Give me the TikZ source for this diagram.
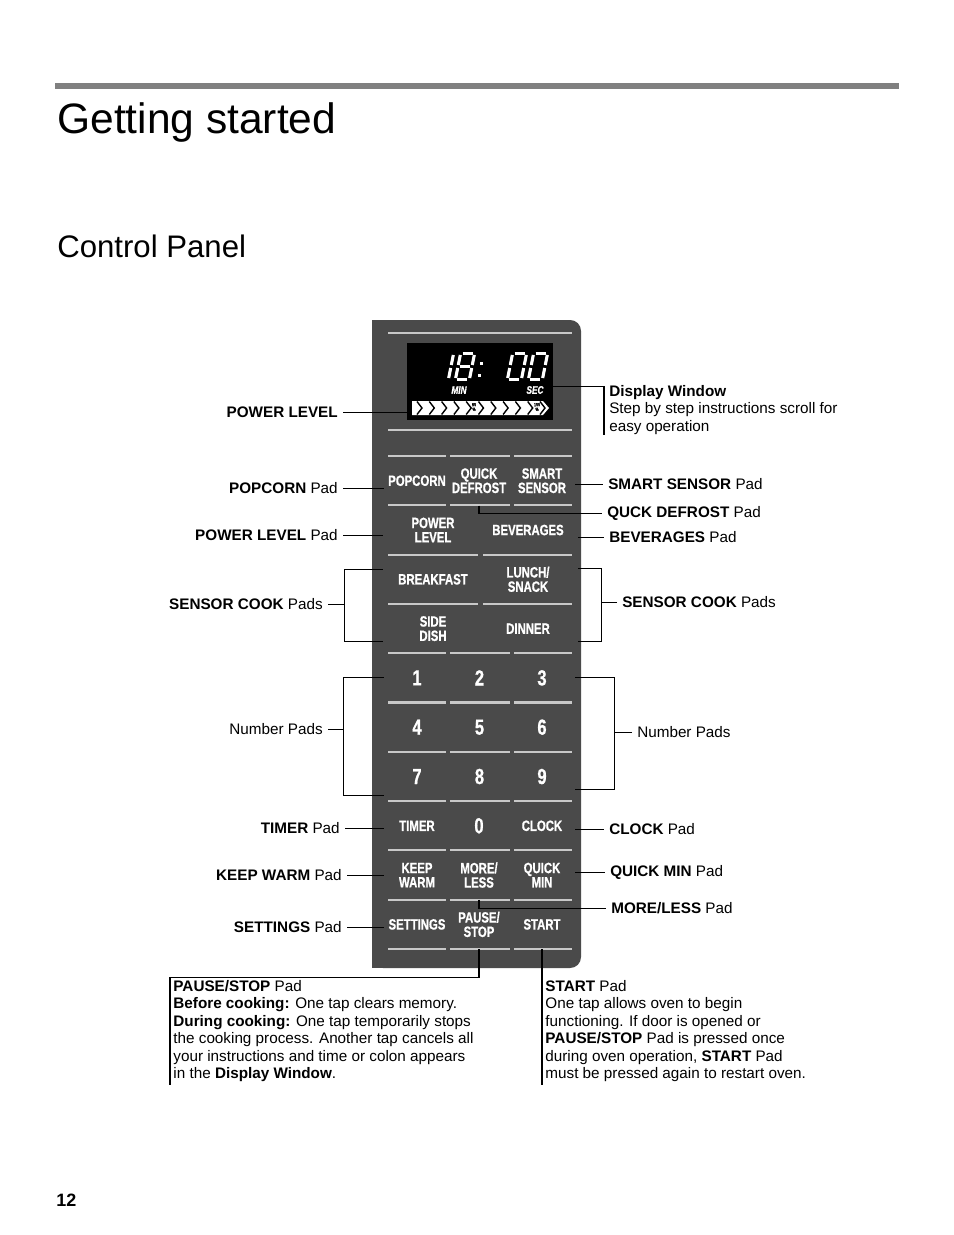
\documentclass[tikz,border=0pt]{standalone}
\usepackage{fontspec}
\setmainfont{Liberation Sans}
\newfontfamily\keyfont[FakeStretch=0.76, BoldFeatures={FakeBold=0.8}, BoldItalicFeatures={FakeBold=0.8}]{Liberation Sans}
\usetikzlibrary{calc}

\definecolor{panelgray}{HTML}{4A4A4A}
\definecolor{padline}{HTML}{C8C8C8}
\definecolor{rulegray}{HTML}{808080}

% seven segment digits, local px coordinates
\def\lcdone{14/-11.5/14/-1.5, 14/1.5/14/11.5}
\def\lcdzero{2/-13/12/-13, 14/-11.5/14/-1.5, 14/1.5/14/11.5, 2/13/12/13, 0/1.5/0/11.5, 0/-11.5/0/-1.5}
\def\lcdeight{2/-13/12/-13, 14/-11.5/14/-1.5, 14/1.5/14/11.5, 2/13/12/13, 0/1.5/0/11.5, 0/-11.5/0/-1.5, 2/0/12/0}
\newcommand{\lcddigit}[3]{%
    \begin{scope}[shift={(#1,#2)}, xslant=0.2]
        \foreach \xa/\ya/\xb/\yb in #3
            \draw[lcdseg] (\xa,\ya) -- (\xb,\yb);
    \end{scope}}

\begin{document}
\begin{tikzpicture}[x=0.642pt, y=-0.642pt,
    padkey/.style={text=white, font=\keyfont\bfseries\fontsize{9.6}{9.2}\selectfont, align=center,
        inner sep=0pt, minimum width={66*0.642pt}, minimum height={49*0.642pt}},
    widepad/.style={padkey, minimum width={100*0.642pt}},
    numkey/.style={padkey, font=\keyfont\bfseries\fontsize{14}{15}\selectfont},
    padsep/.style={padline, line width=1.3pt},
    lcd/.style={fill=black, inner sep=0pt, minimum width={146*0.642pt}, minimum height={77*0.642pt}},
    lcdseg/.style={white, line width=2pt},
    lcdtext/.style={text=white, font=\keyfont\bfseries\itshape\fontsize{7}{7}\selectfont, inner sep=0pt},
    lcdpct/.style={font=\keyfont\bfseries\fontsize{3}{3}\selectfont, align=center, inner sep=0pt},
    note/.style={font=\fontsize{9.8}{11.2}\selectfont, inner xsep=3.2pt, inner ysep=0pt},
    leader/.style={line width=0.65pt}]
    \useasboundingbox (0,0) rectangle (954,1235);

    % Header
    \fill[rulegray] (55,83) rectangle (899,89);
    \node[anchor=base west, inner sep=0pt, font=\fontsize{27.3}{30}\selectfont] (title) at (57,133) {Getting started};
    \node[anchor=base west, inner sep=0pt, font=\fontsize{20}{24}\selectfont] (section) at (57,257) {Control Panel};
    \node[anchor=base west, inner sep=0pt, font=\bfseries\fontsize{11.5}{13}\selectfont] (pageno) at (56,1206) {12};

    % Panel body
    \fill[panelgray, rounded corners=7pt] (372,320) rectangle (581,968);
    \fill[panelgray] (372,320) rectangle (420,968);

    % Pad separators
    \draw[padsep] (388,333) -- (572,333);
    \draw[padsep] (388,430) -- (572,430);
    \foreach \r in {0,1,4,5,6,7,8,9,10}
        \foreach \xa/\xb in {388/446,450/510,514/572}
            \draw[padsep] (\xa,{456+49.3*\r}) -- (\xb,{456+49.3*\r});
    \foreach \r in {2,3}
        \foreach \xa/\xb in {388/478,483/572}
            \draw[padsep] (\xa,{456+49.3*\r}) -- (\xb,{456+49.3*\r});

    % Display window
    \node[lcd] (display) at (480,381.5) {};
    \lcddigit{437}{366.5}{\lcdone}
    \lcddigit{458}{366.5}{\lcdeight}
    \lcddigit{510}{366.5}{\lcdzero}
    \lcddigit{531}{366.5}{\lcdzero}
    \fill[white] (480,362) rectangle ++(3,3);
    \fill[white] (478,374) rectangle ++(3,3);
    \node[lcdtext] (min) at (459,390) {MIN};
    \node[lcdtext] (sec) at (535,390) {SEC};
    \fill[white] (412,401) -- (543,401) -- (549,408) -- (543,415) -- (412,415) -- cycle;
    \foreach \k in {0,...,10}
        \draw[line width=0.9pt] ({417+12.3*\k},401.5) -- ++(5,6.5) -- ++(-5,6.5);
    \node[lcdpct] (half) at (474,407) {50\\\%};
    \node[lcdpct] (full) at (537,407) {100\\\%};

    % Pads
    \node[padkey] (popcorn) at (417,480.7) {POPCORN};
    \node[padkey] (quickdefrost) at (479,480.7) {QUICK\\DEFROST};
    \node[padkey] (smartsensor) at (542,480.7) {SMART\\SENSOR};
    \node[widepad] (powerlevel) at (433,530) {POWER\\LEVEL};
    \node[widepad] (beverages) at (528,530) {BEVERAGES};
    \node[widepad] (breakfast) at (433,579.3) {BREAKFAST};
    \node[widepad] (lunch) at (528,579.3) {LUNCH/\\SNACK};
    \node[widepad] (sidedish) at (433,628.6) {SIDE\\DISH};
    \node[widepad] (dinner) at (528,628.6) {DINNER};
    \foreach \n [count=\i from 0] in {1,...,9} {
        \pgfmathsetmacro{\xx}{417+62.5*mod(\i,3)}
        \pgfmathsetmacro{\yy}{677.9+49.3*int(\i/3)}
        \node[numkey] (k\n) at (\xx,\yy) {\n};
    }
    \node[padkey] (timer) at (417,825.8) {TIMER};
    \node[numkey] (k0) at (479,825.8) {0};
    \node[padkey] (clock) at (542,825.8) {CLOCK};
    \node[padkey] (keepwarm) at (417,875.1) {KEEP\\WARM};
    \node[padkey] (moreless) at (479,875.1) {MORE/\\LESS};
    \node[padkey] (quickmin) at (542,875.1) {QUICK\\MIN};
    \node[padkey] (settings) at (417,924.4) {SETTINGS};
    \node[padkey] (pausestop) at (479,924.4) {PAUSE/\\STOP};
    \node[padkey] (start) at (542,924.4) {START};

    % Labels, left side
    \node[note, anchor=east] (lpowerlevel) at (343,412) {\bfseries POWER LEVEL};
    \node[note, anchor=east] (lpopcorn) at (343,488) {\textbf{POPCORN} Pad};
    \node[note, anchor=east] (lpowerpad) at (343,535) {\textbf{POWER LEVEL} Pad};
    \node[note, anchor=east] (lsensorl) at (328,604) {\textbf{SENSOR COOK} Pads};
    \node[note, anchor=east] (lnuml) at (328,729) {Number Pads};
    \node[note, anchor=east] (ltimer) at (345,828) {\textbf{TIMER} Pad};
    \node[note, anchor=east] (lkeepwarm) at (347,875) {\textbf{KEEP WARM} Pad};
    \node[note, anchor=east] (lsettings) at (347,927) {\textbf{SETTINGS} Pad};

    % Labels, right side
    \node[note, anchor=north west, align=left] (ldisplay) at (604,385)
        {\textbf{Display Window}\\Step by step instructions scroll for\\easy operation};
    \node[note, anchor=west] (lsmart) at (603,484) {\textbf{SMART SENSOR} Pad};
    \node[note, anchor=west] (lquickdef) at (602,513) {\textbf{QUCK DEFROST} Pad};
    \node[note, anchor=west] (lbev) at (604,537) {\textbf{BEVERAGES} Pad};
    \node[note, anchor=west] (lsensorr) at (617,602) {\textbf{SENSOR COOK} Pads};
    \node[note, anchor=west] (lnumr) at (632,732) {Number Pads};
    \node[note, anchor=west] (lclock) at (604,829) {\textbf{CLOCK} Pad};
    \node[note, anchor=west] (lquickmin) at (605,872) {\textbf{QUICK MIN} Pad};
    \node[note, anchor=west] (lmoreless) at (606,908) {\textbf{MORE/LESS} Pad};

    % Notes below the panel
    \node[note, anchor=north west, align=left, inner xsep=2pt, inner ysep=2pt] (lpause) at (170,977)
        {\textbf{PAUSE/STOP} Pad\\
         \textbf{Before cooking:} One tap clears memory.\\
         \textbf{During cooking:} One tap temporarily stops\\
         the cooking process. Another tap cancels all\\
         your instructions and time or colon appears\\
         in the \textbf{Display Window}.};
    \node[note, anchor=north west, align=left, inner xsep=2pt, inner ysep=2pt] (lstart) at (542,977)
        {\textbf{START} Pad\\
         One tap allows oven to begin\\
         functioning. If door is opened or\\
         \textbf{PAUSE/STOP} Pad is pressed once\\
         during oven operation, \textbf{START} Pad\\
         must be pressed again to restart oven.};

    % Leaders, left side
    \draw[leader] (lpowerlevel.east) -- (lpowerlevel.east -| display.west);
    \draw[leader] (lpopcorn.east) -- (lpopcorn.east -| popcorn.west);
    \draw[leader] (lpowerpad.east) -- (lpowerpad.east -| powerlevel.west);
    \draw[leader] (lsensorl.east) -- ++(17,0);
    \draw[leader] ($(breakfast.west)+(0,-9.5)$) -- ++(-38,0) |- ($(sidedish.west)+(0,13)$);
    \draw[leader] (lnuml.east) -- ++(16,0);
    \draw[leader] (k1.west) -- ++(-40,0) |- ($(k7.west)+(0,18.5)$);
    \draw[leader] (ltimer.east) -- (ltimer.east -| timer.west);
    \draw[leader] (lkeepwarm.east) -- (lkeepwarm.east -| keepwarm.west);
    \draw[leader] (lsettings.east) -- (lsettings.east -| settings.west);

    % Leaders, right side
    \draw[leader] ($(display.east)+(0,4.5)$) -| (ldisplay.south west);
    \draw[leader] (lsmart.west -| smartsensor.east) -- (lsmart.west);
    \draw[leader] (quickdefrost.south) |- (lquickdef.west);
    \draw[leader] (lbev.west -| beverages.east) -- (lbev.west);
    \draw[leader] (lsensorr.west) -- ++(-16,0);
    \draw[leader] ($(lunch.east)+(0,-10.5)$) -- ++(23,0) |- ($(dinner.east)+(0,12.5)$);
    \draw[leader] (lnumr.west) -- ++(-17,0);
    \draw[leader] (k3.east) -- ++(39,0) |- ($(k9.east)+(0,12.5)$);
    \draw[leader] (lclock.west -| clock.east) -- (lclock.west);
    \draw[leader] (lquickmin.west -| quickmin.east) -- (lquickmin.west);
    \draw[leader] (moreless.south) |- (lmoreless.west);

    % Leaders, bottom
    \draw[leader] (pausestop.south) |- (lpause.north west) -- (lpause.south west);
    \draw[leader] (start.south) -- (start.south |- lstart.south);
\end{tikzpicture}
\end{document}
